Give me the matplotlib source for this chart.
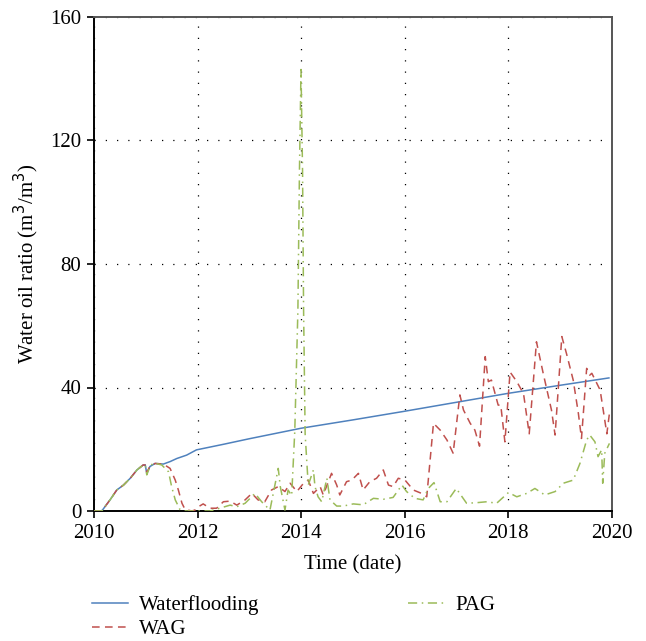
import matplotlib
matplotlib.use("Agg")
import matplotlib.pyplot as plt

# ---- data ----
wf_t = [2010.0, 2010.15, 2010.31, 2010.44, 2010.57, 2010.70, 2010.83, 2010.95, 2010.99, 2011.02,
        2011.08, 2011.18, 2011.34, 2011.47, 2011.60, 2011.79, 2011.98, 2012.5, 2013.0, 2013.5,
        2014.0, 2015.0, 2016.0, 2017.0, 2018.0, 2019.0, 2019.95]
wf = [0, 0, 3.6, 6.8, 8.4, 10.6, 13.3, 14.9, 14.9, 12.2,
      14.4, 15.4, 15.2, 16.0, 17.0, 18.1, 19.8, 21.6, 23.4, 25.1,
      26.8, 29.5, 32.3, 35.2, 38.1, 40.7, 43.1]

wag_t = [2010.0, 2010.15, 2010.31, 2010.44, 2010.57, 2010.70, 2010.83, 2010.95, 2010.99, 2011.02,
         2011.08, 2011.18, 2011.34, 2011.47, 2011.57, 2011.63, 2011.70, 2011.76, 2011.89, 2011.95,
         2012.02, 2012.11, 2012.24, 2012.37, 2012.5, 2012.63, 2012.76, 2012.92, 2013.05, 2013.17,
         2013.30, 2013.43, 2013.56, 2013.69, 2013.79, 2013.92, 2014.05, 2014.14, 2014.24, 2014.37,
         2014.43, 2014.59, 2014.69, 2014.75, 2014.88, 2014.98, 2015.11, 2015.20, 2015.33, 2015.46,
         2015.59, 2015.69, 2015.78, 2015.88, 2016.01, 2016.17, 2016.33, 2016.43, 2016.56, 2016.69,
         2016.82, 2016.94, 2017.07, 2017.14, 2017.27, 2017.36, 2017.45, 2017.56, 2017.62, 2017.68,
         2017.81, 2017.86, 2017.94, 2018.04, 2018.17, 2018.30, 2018.41, 2018.55, 2018.68, 2018.84,
         2018.91, 2019.04, 2019.13, 2019.26, 2019.36, 2019.42, 2019.52, 2019.58, 2019.62, 2019.78,
         2019.84, 2019.91, 2019.96]
wag = [0, 0, 3.6, 6.8, 8.4, 10.6, 13.3, 14.9, 14.9, 12.5,
       14.4, 15.4, 15.2, 13.8, 10.0, 6.8, 2.5, 0.5, 0, 0.3,
       1.4, 2.3, 0.9, 0.9, 3.0, 3.2, 1.9, 3.6, 5.7, 3.6,
       3.0, 6.8, 7.9, 6.3, 9.0, 6.3, 9.0, 10.0, 5.7, 7.9,
       5.2, 12.2, 8.4, 5.2, 9.5, 10.0, 12.2, 6.8, 9.5, 10.6,
       13.3, 8.4, 7.9, 10.6, 10.0, 6.8, 5.7, 4.6, 28.4, 26.2,
       23.0, 18.7, 37.6, 32.7, 28.4, 26.2, 21.0, 50.0, 41.9, 42.4,
       34.3, 34.3, 22.4, 45.0, 41.9, 38.0, 25.0, 54.8, 44.6, 32.7,
       24.6, 56.5, 51.0, 42.4, 31.6, 23.5, 46.2, 44.0, 44.6, 39.2,
       32.7, 25.0, 31.6]

pag_t = [2010.0, 2010.15, 2010.31, 2010.44, 2010.57, 2010.70, 2010.83, 2010.95, 2010.99, 2011.02,
         2011.08, 2011.15, 2011.31, 2011.44, 2011.50, 2011.57, 2011.66, 2011.75, 2012.24, 2012.43,
         2012.63, 2012.76, 2012.92, 2013.11, 2013.24, 2013.40, 2013.56, 2013.60, 2013.69, 2013.75,
         2013.82, 2013.88, 2013.94, 2013.97, 2014.0, 2014.03, 2014.05, 2014.08, 2014.11, 2014.14,
         2014.24, 2014.27, 2014.33, 2014.40, 2014.50, 2014.56, 2014.69, 2014.82, 2015.01, 2015.20,
         2015.40, 2015.59, 2015.78, 2015.95, 2016.04, 2016.20, 2016.36, 2016.46, 2016.57, 2016.69,
         2016.82, 2017.0, 2017.2, 2017.4, 2017.59, 2017.78, 2018.01, 2018.17, 2018.36, 2018.52,
         2018.71, 2018.91, 2019.07, 2019.26, 2019.39, 2019.52, 2019.58, 2019.68, 2019.74, 2019.81,
         2019.83, 2019.87, 2019.96]
pag = [0, 0, 3.6, 6.8, 8.4, 10.6, 13.3, 14.9, 14.9, 11.7,
       14.4, 15.6, 14.9, 12.7, 7.9, 3.6, 0.5, 0, 0, 0.9,
       1.9, 1.4, 2.5, 5.7, 3.0, 0.3, 13.8, 7.9, 0.3, 6.8,
       5.0, 26.0, 65.0, 110.0, 143.0, 110.0, 65.0, 25.0, 16.5, 8.4,
       13.3, 7.9, 4.6, 3.0, 10.6, 3.6, 1.6, 1.6, 2.3, 2.0,
       4.1, 3.8, 4.4, 8.4, 6.3, 4.1, 3.6, 7.3, 9.2, 3.0,
       3.0, 7.3, 2.5, 2.7, 3.0, 2.5, 6.0, 4.6, 5.7, 7.3,
       5.2, 6.3, 9.0, 10.0, 15.4, 23.0, 24.6, 22.4, 17.6, 19.8,
       9.0, 18.7, 21.9]

x_ticks = [2010, 2012, 2014, 2016, 2018, 2020]
y_ticks = [0, 40, 80, 120, 160]
labels = ["Waterflooding", "WAG", "PAG"]

# ---- style ----
plt.rcParams['font.family'] = ['Liberation Serif', 'DejaVu Serif']
FS = 15

fig = plt.figure(figsize=(6.46, 6.41), dpi=100)
ax = fig.add_axes([94/646, 1 - 511/641, (611.5 - 94)/646, (511 - 17)/641])

ax.plot(wf_t, wf, color='#4f81bd', lw=1.1, label=labels[0], zorder=3)
ax.plot(wag_t, wag, color='#c0504d', lw=1.1, ls=(0, (5, 3.5)), label=labels[1], zorder=3)
ax.plot(pag_t, pag, color='#9bbb59', lw=1.1, ls=(0, (6, 3, 1, 3)), label=labels[2], zorder=3)

ax.set_xlim(2010, 2020)
ax.set_ylim(0, 160)
ax.set_xticks(x_ticks)
ax.set_yticks(y_ticks)
ax.set_xticklabels([str(v) for v in x_ticks], fontsize=FS)
ax.set_yticklabels([str(v) for v in y_ticks], fontsize=FS)
ax.tick_params(direction='out', length=5, width=1.2, color='black', pad=4)

ax.grid(True, color='black', ls=(0, (1, 8)), lw=0.9)

for s in ['left', 'bottom']:
    ax.spines[s].set_color('black')
    ax.spines[s].set_linewidth(1.4)
for s in ['top', 'right']:
    ax.spines[s].set_color('#555555')
    ax.spines[s].set_linewidth(1.4)

ax.set_xlabel("Time (date)", fontsize=FS, labelpad=9)
ax.set_ylabel("Water oil ratio (m$^3$/m$^3$)", fontsize=FS, labelpad=7)

leg = fig.legend(loc='upper left', bbox_to_anchor=(86/646, 1 - 589/641), ncol=2,
                 frameon=False, fontsize=FS, handlelength=1.7, columnspacing=7.15,
                 handletextpad=0.55, labelspacing=0.2, borderaxespad=0, borderpad=0.3)

fig.savefig("out.png", dpi=100)
